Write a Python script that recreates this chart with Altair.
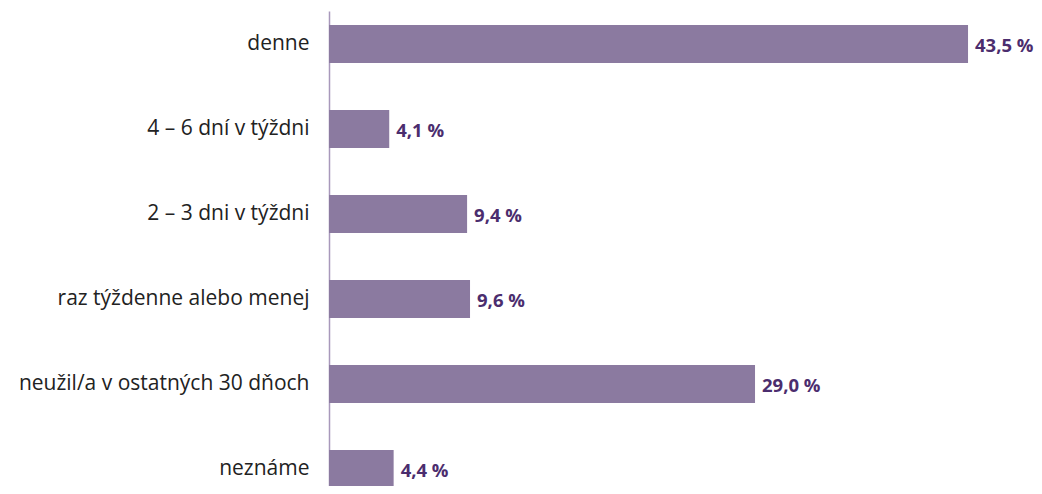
import altair as alt
import pandas as pd

categories = [
    "denne",
    "4 – 6 dní v týždni",
    "2 – 3 dni v týždni",
    "raz týždenne alebo menej",
    "neužil/a v ostatných 30 dňoch",
    "neznáme",
]
values = [43.5, 4.1, 9.4, 9.6, 29.0, 4.4]

df = pd.DataFrame({"cat": categories, "v": values})

FONT = "Open Sans"

y_axis = alt.Axis(
    title=None,
    ticks=False,
    domainColor="#a898bb",
    domainWidth=1.5,
    labelFont=FONT,
    labelFontSize=21,
    labelColor="#222222",
    labelPadding=20,
    labelLimit=400,
)
y_scale = alt.Scale(range=[3, 486], paddingInner=0.553, paddingOuter=0.1176, align=0.7)
y_enc = alt.Y("cat:N", sort=categories, scale=y_scale, axis=y_axis)
x_enc = alt.X(
    "v:Q",
    scale=alt.Scale(domain=[0, 47.65], nice=False),
    axis=None,
)

bars = alt.Chart(df).mark_bar(color="#8b7aa0").encode(y=y_enc, x=x_enc)

text = (
    alt.Chart(df)
    .transform_calculate(lab="replace(format(datum.v, '.1f'), '.', ',') + ' %'")
    .mark_text(
        align="left",
        baseline="middle",
        dx=7,
        dy=2,
        font=FONT,
        fontSize=18.5,
        fontWeight="bold",
        color="#4b2d6e",
    )
    .encode(y=y_enc, x=x_enc, text="lab:N")
)

chart = (
    alt.layer(bars, text)
    .properties(
        width=700,
        height=478,
        background="white",
        autosize=alt.AutoSizeParams(type="none"),
        padding={"left": 321, "top": 0, "right": 5, "bottom": 0},
    )
    .configure_view(strokeWidth=0, stroke="transparent")
    .configure_axis(grid=False)
)

chart.save("out.html", embed_options={"renderer": "svg", "actions": False})
